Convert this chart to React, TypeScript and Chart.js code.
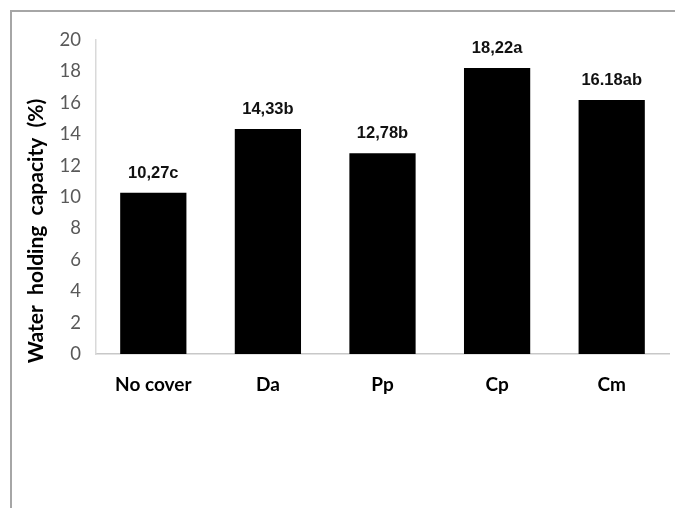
import React, { useEffect, useRef } from "react";
import { Chart, registerables } from "chart.js";

Chart.register(...registerables);

const categories = ["No cover", "Da", "Pp", "Cp", "Cm"];
const values = [10.27, 14.33, 12.78, 18.22, 16.18];
const valueLabels = ["10,27c", "14,33b", "12,78b", "18,22a", "16.18ab"];
const yTitle = "Water  holding  capacity  (%)";

const framePlugin = {
  id: "frame",
  beforeDraw(chart: any) {
    const ctx = chart.ctx;
    ctx.save();
    ctx.fillStyle = "#ffffff";
    ctx.fillRect(0, 0, chart.width, chart.height);
    ctx.strokeStyle = "#a6a6a6";
    ctx.lineWidth = 2;
    ctx.beginPath();
    ctx.moveTo(11, 508);
    ctx.lineTo(11, 11);
    ctx.lineTo(675, 11);
    ctx.stroke();
    // y axis title (placed off-centre as in the reference)
    ctx.translate(43, 231);
    ctx.rotate(-Math.PI / 2);
    ctx.font = "bold 21px Lato, 'Open Sans', sans-serif";
    ctx.fillStyle = "#000000";
    ctx.textAlign = "center";
    ctx.textBaseline = "alphabetic";
    ctx.fillText(yTitle, 0, 0);
    ctx.restore();
  },
};

const labelPlugin = {
  id: "valueLabels",
  afterDatasetsDraw(chart: any) {
    const ctx = chart.ctx;
    const meta = chart.getDatasetMeta(0);
    ctx.save();
    ctx.font = "bold 16.5px 'Liberation Sans', Arial, sans-serif";
    ctx.fillStyle = "#111111";
    ctx.textAlign = "center";
    ctx.textBaseline = "alphabetic";
    meta.data.forEach((bar: any, i: number) => {
      ctx.fillText(valueLabels[i], bar.x, bar.y - 15);
    });
    ctx.restore();
  },
};

export default function App() {
  const ref = useRef<HTMLCanvasElement>(null);
  useEffect(() => {
    if (!ref.current) return;
    const chart = new Chart(ref.current, {
      type: "bar",
      data: {
        labels: categories,
        datasets: [
          {
            data: values,
            backgroundColor: "#000000",
            borderColor: "#000000",
            borderWidth: 0,
            barPercentage: 0.578,
            categoryPercentage: 1,
          },
        ],
      },
      options: {
        responsive: false,
        animation: false,
        events: [],
        layout: { padding: { top: 40, right: 6, left: 0, bottom: 0 } },
        plugins: { legend: { display: false }, tooltip: { enabled: false } },
        scales: {
          x: {
            grid: { display: false, drawTicks: false },
            border: { color: "#c8c8c8", width: 1.5 },
            ticks: {
              color: "#000000",
              padding: 19,
              font: { family: "Lato, 'Open Sans', sans-serif", size: 19, weight: "bold" },
            },
            afterFit(scale: any) {
              scale.height = 154;
            },
          },
          y: {
            min: 0,
            max: 20,
            grid: { display: false, drawTicks: false },
            border: { color: "#d9d9d9", width: 1.5 },
            ticks: {
              stepSize: 2,
              color: "#595959",
              padding: 15,
              font: { family: "Lato, 'Open Sans', sans-serif", size: 18.5 },
            },
            title: { display: false, text: yTitle },
            afterFit(scale: any) {
              scale.width = 96;
            },
          },
        },
      },
      plugins: [framePlugin, labelPlugin],
    });
    return () => chart.destroy();
  }, []);
  return (
    <div style={{ position: "fixed", left: 0, top: 0, width: 675, height: 508, background: "#fff" }}>
      <canvas ref={ref} width={675} height={508} style={{ display: "block", width: 675, height: 508 }} />
    </div>
  );
}
